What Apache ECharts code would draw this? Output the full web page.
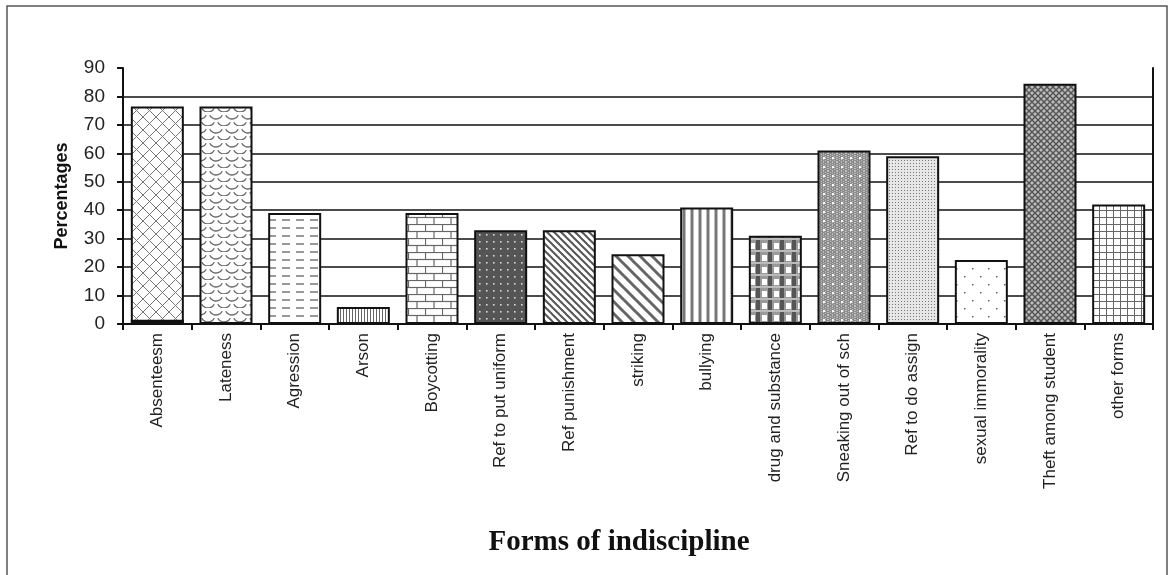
<!DOCTYPE html>
<html>
<head>
<meta charset="utf-8">
<script src="https://cdn.jsdelivr.net/npm/echarts@6/dist/echarts.min.js"></script>
<style>
html,body{margin:0;padding:0;background:#fff;}
#chart{width:1174px;height:575px;}
</style>
</head>
<body>
<div id="chart"></div>
<script>
// ---- data ----
const categories = ["Absenteesm", "Lateness", "Agression", "Arson", "Boycotting",
  "Ref to put uniform", "Ref punishment", "striking", "bullying", "drug and substance",
  "Sneaking out of sch", "Ref to do assign", "sexual immorality", "Theft among student", "other forms"];
const percentages = [76.5, 76.5, 39, 6, 39, 33, 33, 24.5, 41, 31, 61, 59, 22.5, 84.5, 42];
const baseSegment = [1.5, null, null, null, null, null, null, null, null, null, null, null, null, null, null];
const yMin = 0, yMax = 90, yStep = 10;
const yTitle = "Percentages";
const xTitle = "Forms of indiscipline";

// ---- fill patterns ----
function cv(w, h, bg) {
  const c = document.createElement('canvas');
  c.width = w; c.height = h;
  const ctx = c.getContext('2d');
  ctx.fillStyle = bg || '#fff';
  ctx.fillRect(0, 0, w, h);
  return [c, ctx];
}
function line(ctx, x1, y1, x2, y2, col, lw) {
  ctx.strokeStyle = col; ctx.lineWidth = lw;
  ctx.beginPath(); ctx.moveTo(x1, y1); ctx.lineTo(x2, y2); ctx.stroke();
}
const patternMakers = [
  function () { // crosshatch diamonds
    const [c, x] = cv(13, 13);
    line(x, 0, 0, 13, 13, '#777', 1); line(x, 13, 0, 0, 13, '#777', 1);
    return c;
  },
  function () { // scales / waves
    const [c, x] = cv(16, 14);
    x.strokeStyle = '#666'; x.lineWidth = 1.3;
    x.beginPath(); x.arc(8, 0, 7, 0.15 * Math.PI, 0.85 * Math.PI); x.stroke();
    x.beginPath(); x.arc(0, 7, 7, 0.15 * Math.PI, 0.85 * Math.PI); x.stroke();
    x.beginPath(); x.arc(16, 7, 7, 0.15 * Math.PI, 0.85 * Math.PI); x.stroke();
    return c;
  },
  function () { // dashes
    const [c, x] = cv(14, 8);
    line(x, 2, 4, 10, 4, '#555', 1.2);
    return c;
  },
  function () { // dense vertical lines
    const [c, x] = cv(3, 3);
    line(x, 1.5, 0, 1.5, 3, '#666', 1);
    return c;
  },
  function () { // brick
    const [c, x] = cv(17, 14);
    line(x, 0, 0.5, 17, 0.5, '#666', 1.2); line(x, 0, 7.5, 17, 7.5, '#666', 1.2);
    line(x, 0.5, 0, 0.5, 7, '#666', 1.2); line(x, 9, 7, 9, 14, '#666', 1.2);
    return c;
  },
  function () { // dark with light dots
    const [c, x] = cv(7, 7, '#555');
    x.fillStyle = '#d8d8d8'; x.fillRect(3, 3, 1.6, 1.6);
    return c;
  },
  function () { // dense diagonal
    const [c, x] = cv(7, 7);
    line(x, -1, -1, 8, 8, '#555', 2); line(x, -8, -1, 1, 8, '#555', 2); line(x, 6, -1, 15, 8, '#555', 2);
    return c;
  },
  function () { // wide diagonal
    const [c, x] = cv(12, 12);
    line(x, -1, -1, 13, 13, '#666', 3); line(x, -13, -1, 1, 13, '#666', 3); line(x, 11, -1, 25, 13, '#666', 3);
    return c;
  },
  function () { // vertical stripes
    const [c, x] = cv(8, 8);
    line(x, 4, 0, 4, 8, '#777', 3);
    return c;
  },
  function () { // plaid
    const [c, x] = cv(12, 12, '#9a9a9a');
    x.fillStyle = '#555'; x.fillRect(0, 0, 4, 12);
    x.fillStyle = '#fff'; x.fillRect(6, 3, 5, 6);
    x.fillStyle = '#bbb'; x.fillRect(0, 10, 12, 2);
    return c;
  },
  function () { // gray with white dots
    const [c, x] = cv(9, 9, '#8c8c8c');
    x.fillStyle = '#bdbdbd';
    for (let i = 0; i < 9; i += 2) for (let j = (i / 2) % 2; j < 9; j += 2) x.fillRect(i, j, 1, 1);
    x.fillStyle = '#fff'; x.fillRect(4, 4, 2, 2);
    return c;
  },
  function () { // fine dots
    const [c, x] = cv(3, 3, '#e6e6e6');
    x.fillStyle = '#777'; x.fillRect(1, 1, 1, 1);
    return c;
  },
  function () { // sparse dots
    const [c, x] = cv(16, 16);
    x.fillStyle = '#666'; x.fillRect(4, 4, 1.5, 1.5); x.fillRect(12, 12, 1.5, 1.5);
    return c;
  },
  function () { // dark small crosshatch
    const [c, x] = cv(6, 6, '#bdbdbd');
    line(x, 0, 0, 6, 6, '#555', 1.4); line(x, 6, 0, 0, 6, '#555', 1.4);
    return c;
  },
  function () { // grid squares
    const [c, x] = cv(7, 7);
    line(x, 0.5, 0, 0.5, 7, '#666', 1); line(x, 0, 0.5, 7, 0.5, '#666', 1);
    return c;
  }
];

const barData = percentages.map((v, i) => ({
  value: v,
  itemStyle: { color: { image: patternMakers[i](), repeat: 'repeat' } }
}));

const chart = echarts.init(document.getElementById('chart'));
chart.setOption({
  animation: false,
  backgroundColor: '#fff',
  grid: { left: 123, right: 21, top: 68, bottom: 251, containLabel: false },
  xAxis: {
    type: 'category',
    data: categories,
    boundaryGap: true,
    axisLine: { lineStyle: { color: '#111', width: 2 } },
    axisTick: { show: true, length: 6, lineStyle: { color: '#111', width: 2 } },
    axisLabel: { rotate: 90, interval: 0, margin: 9, fontSize: 17, color: '#222',
      fontFamily: "'Liberation Sans Narrow', 'Liberation Sans', Arial, sans-serif" }
  },
  yAxis: [{
    type: 'value',
    min: yMin, max: yMax, interval: yStep,
    name: yTitle, nameLocation: 'middle', nameRotate: 90, nameGap: 52,
    nameTextStyle: { fontSize: 18, fontWeight: 'bold', color: '#111',
      fontFamily: "'Liberation Sans Narrow', 'Liberation Sans', Arial, sans-serif" },
    axisLine: { show: true, lineStyle: { color: '#111', width: 2 } },
    axisTick: { show: true, length: 6, lineStyle: { color: '#111', width: 2 } },
    axisLabel: { fontSize: 19, color: '#222', margin: 18,
      fontFamily: "'Liberation Sans Narrow', 'Liberation Sans', Arial, sans-serif" },
    splitLine: { show: true, showMinLine: false, showMaxLine: false, lineStyle: { color: '#111', width: 1.5 } }
  }, {
    type: 'value', position: 'right',
    min: yMin, max: yMax, interval: yStep,
    axisLine: { show: true, lineStyle: { color: '#111', width: 2 } },
    axisTick: { show: false }, axisLabel: { show: false }, splitLine: { show: false }
  }],
  series: [{
    type: 'bar',
    data: barData,
    barWidth: 53,
    itemStyle: { borderColor: '#111', borderWidth: 2 }
  }, {
    type: 'bar',
    data: baseSegment,
    barWidth: 53,
    barGap: '-100%',
    itemStyle: { color: '#111', borderColor: '#111', borderWidth: 2 }
  }],
  graphic: [{
    type: 'rect', shape: { x: 7, y: 6, width: 1160, height: 600 },
    style: { fill: 'none', stroke: '#555', lineWidth: 1.5 }, z: -10, silent: true
  }, {
    type: 'text', x: 619, y: 543,
    style: { text: xTitle, fill: '#111', font: "bold 29px 'Liberation Serif', 'Times New Roman', serif",
      textAlign: 'center', textVerticalAlign: 'middle' }
  }]
});
</script>
</body>
</html>
